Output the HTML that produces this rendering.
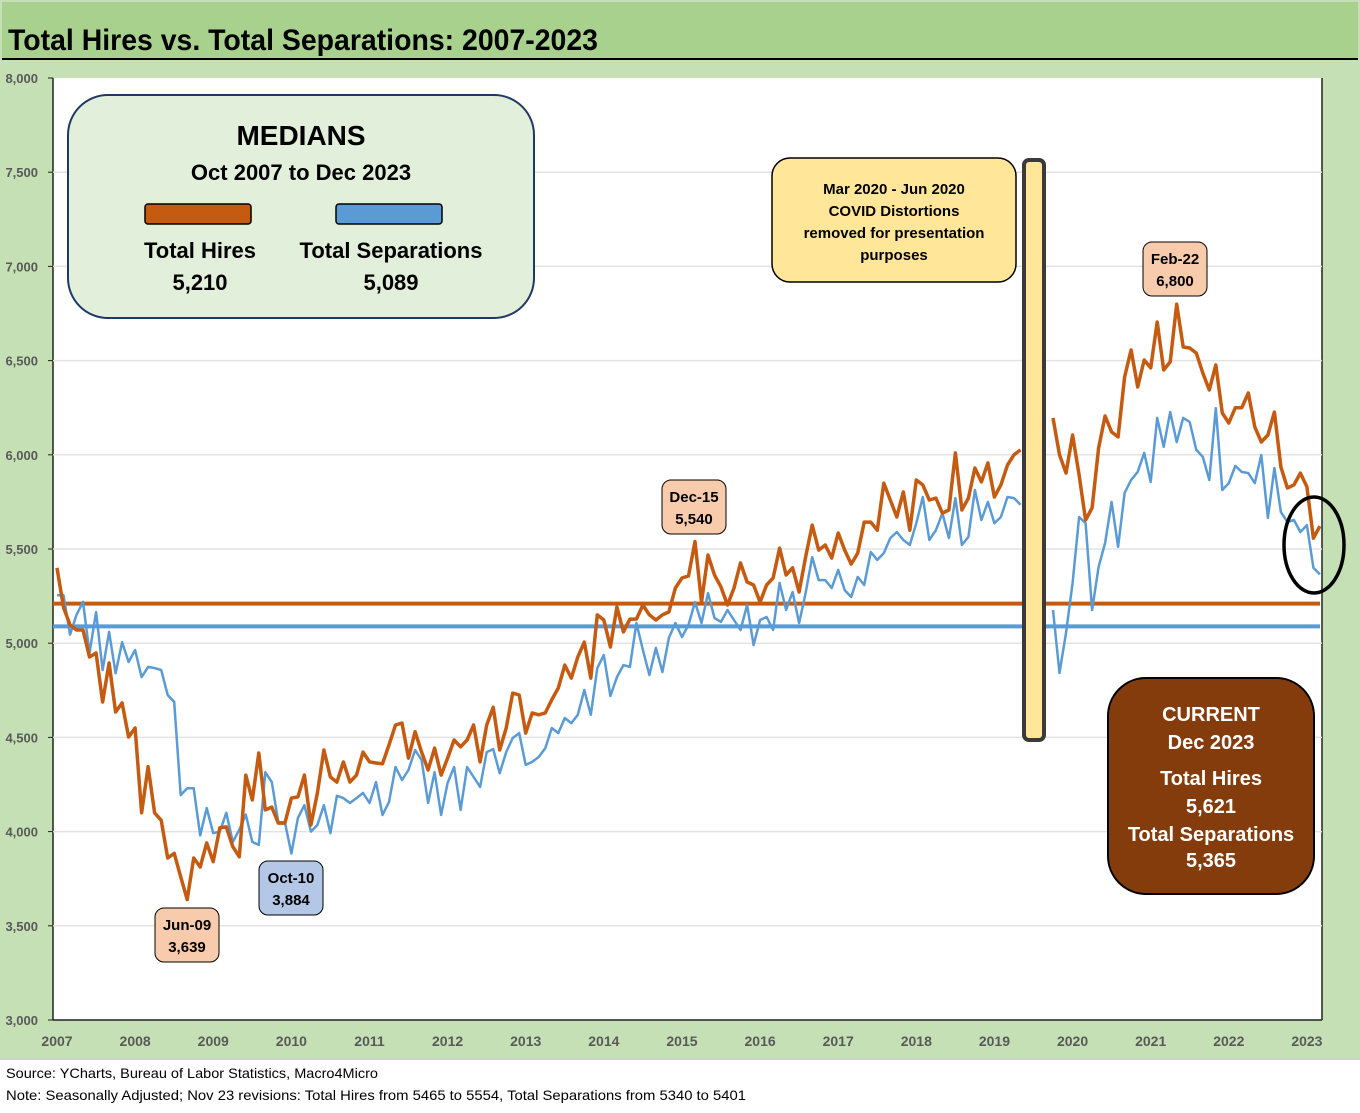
<!DOCTYPE html>
<html><head><meta charset="utf-8"><style>
body{margin:0;width:1360px;height:1108px;overflow:hidden;background:#fff;font-family:"Liberation Sans",sans-serif}
</style></head><body>
<svg width="1360" height="1108" font-family="Liberation Sans, sans-serif">
<rect x="0" y="0" width="1360" height="1058" fill="#c5e0b4"/>
<rect x="2" y="2" width="1356" height="56" fill="#a9d18e"/>
<line x1="2" y1="59" x2="1358" y2="59" stroke="#000" stroke-width="2"/>
<text x="8" y="50" font-size="30" font-weight="bold" fill="#000" textLength="590" lengthAdjust="spacingAndGlyphs">Total Hires vs. Total Separations: 2007-2023</text>
<rect x="53" y="78" width="1269" height="942" fill="#fff"/>
<line x1="53" y1="78" x2="53" y2="1020" stroke="#222" stroke-width="1.5"/>
<line x1="53" y1="1020" x2="1322" y2="1020" stroke="#222" stroke-width="1.5"/>
<line x1="1322" y1="78" x2="1322" y2="1020" stroke="#222" stroke-width="1.5"/>
<g id="grid"></g><g id="yaxis"></g><g id="xaxis"></g>
<g id="medians"></g>
<g id="lines"></g>
<line x1="0" y1="1059" x2="1360" y2="1059" stroke="#d0d0d0" stroke-width="2"/>
<text x="6" y="1078" font-size="14" fill="#000" textLength="372" lengthAdjust="spacingAndGlyphs">Source: YCharts, Bureau of Labor Statistics, Macro4Micro</text>
<text x="6" y="1100" font-size="14" fill="#000" textLength="740" lengthAdjust="spacingAndGlyphs">Note: Seasonally Adjusted; Nov 23 revisions: Total Hires from 5465 to 5554, Total Separations from 5340 to 5401</text>

<g>
<rect x="68" y="95" width="466" height="223" rx="40" fill="#e2efda" stroke="#1f3864" stroke-width="2"/>
<text x="301" y="145" font-size="28" font-weight="bold" text-anchor="middle">MEDIANS</text>
<text x="301" y="180" font-size="22" font-weight="bold" text-anchor="middle">Oct 2007 to Dec 2023</text>
<rect x="145" y="204" width="106" height="20" rx="3" fill="#c55a11" stroke="#000" stroke-width="1.5"/>
<rect x="336" y="204" width="106" height="20" rx="3" fill="#5b9bd5" stroke="#000" stroke-width="1.5"/>
<text x="200" y="258" font-size="22" font-weight="bold" text-anchor="middle">Total Hires</text>
<text x="200" y="290" font-size="22" font-weight="bold" text-anchor="middle">5,210</text>
<text x="391" y="258" font-size="22" font-weight="bold" text-anchor="middle">Total Separations</text>
<text x="391" y="290" font-size="22" font-weight="bold" text-anchor="middle">5,089</text>
</g>

<g>
<rect x="772" y="158" width="244" height="124" rx="18" fill="#ffe699" stroke="#000" stroke-width="1.5"/>
<text x="894" y="194" font-size="15" font-weight="bold" text-anchor="middle">Mar 2020 - Jun 2020</text>
<text x="894" y="216" font-size="15" font-weight="bold" text-anchor="middle">COVID Distortions</text>
<text x="894" y="238" font-size="15" font-weight="bold" text-anchor="middle">removed for presentation</text>
<text x="894" y="260" font-size="15" font-weight="bold" text-anchor="middle">purposes</text>
</g>
<g>
<rect x="1024" y="160" width="20" height="580" rx="5" fill="#ffe699" stroke="#3a3a3a" stroke-width="4"/>
</g>

<g>
<rect x="1108" y="678" width="206" height="216" rx="38" fill="#843c0c" stroke="#000" stroke-width="2"/>
<g fill="#fff" font-size="20" font-weight="bold" text-anchor="middle">
<text x="1211" y="721">CURRENT</text><text x="1211" y="749">Dec 2023</text>
<text x="1211" y="785">Total Hires</text><text x="1211" y="813">5,621</text>
<text x="1211" y="841">Total Separations</text><text x="1211" y="867">5,365</text></g>
</g>
<ellipse cx="1314" cy="545" rx="30" ry="48" fill="none" stroke="#000" stroke-width="3.5"/>

<g><rect x="155" y="908" width="64" height="54" rx="9" fill="#f8cbad" stroke="#000" stroke-width="1"/><text x="187" y="930" font-size="15" font-weight="bold" text-anchor="middle">Jun-09</text><text x="187" y="952" font-size="15" font-weight="bold" text-anchor="middle">3,639</text></g>
<g><rect x="259" y="861" width="64" height="54" rx="9" fill="#b4c7e7" stroke="#000" stroke-width="1"/><text x="291" y="883" font-size="15" font-weight="bold" text-anchor="middle">Oct-10</text><text x="291" y="905" font-size="15" font-weight="bold" text-anchor="middle">3,884</text></g>
<g><rect x="662" y="480" width="64" height="54" rx="9" fill="#f8cbad" stroke="#000" stroke-width="1"/><text x="694" y="502" font-size="15" font-weight="bold" text-anchor="middle">Dec-15</text><text x="694" y="524" font-size="15" font-weight="bold" text-anchor="middle">5,540</text></g>
<g><rect x="1143" y="242" width="64" height="54" rx="9" fill="#f8cbad" stroke="#000" stroke-width="1"/><text x="1175" y="264" font-size="15" font-weight="bold" text-anchor="middle">Feb-22</text><text x="1175" y="286" font-size="15" font-weight="bold" text-anchor="middle">6,800</text></g>
</svg>
<script>
const yTicks=[3000,3500,4000,4500,5000,5500,6000,6500,7000,7500,8000];
const xLabels=["2007","2008","2009","2010","2011","2012","2013","2014","2015","2016","2017","2018","2019","2020","2021","2022","2023"];
const medianHires=5210;
const medianSeps=5089;
const hires=[5400,5190,5097,5070,5070,4927,4948,4688,4895,4635,4683,4502,4550,4100,4345,4100,4060,3860,3885,3760,3639,3860,3812,3940,3840,4020,4025,3920,3866,4300,4168,4417,4115,4130,4045,4045,4178,4184,4300,4035,4205,4433,4290,4263,4370,4263,4300,4422,4370,4364,4360,4460,4566,4576,4390,4530,4422,4327,4443,4300,4390,4486,4450,4486,4566,4370,4566,4660,4433,4550,4735,4725,4523,4630,4620,4630,4700,4762,4884,4815,4927,5006,4815,5150,5123,4980,5192,5060,5128,5128,5203,5150,5123,5150,5166,5293,5346,5357,5540,5218,5468,5362,5298,5203,5293,5426,5325,5309,5218,5309,5346,5505,5362,5400,5272,5457,5627,5494,5521,5452,5585,5494,5420,5478,5643,5643,5600,5850,5760,5670,5803,5600,5866,5840,5760,5770,5690,5707,6010,5707,5770,5930,5856,5957,5776,5840,5946,6000,6026,null,null,null,null,6196,6000,5903,6105,5893,5654,5718,6036,6206,6121,6095,6413,6557,6360,6503,6461,6705,6450,6493,6800,6572,6567,6540,6434,6344,6477,6222,6169,6250,6250,6328,6148,6068,6105,6227,5935,5824,5840,5903,5830,5558,5621];
const seps=[5255,5255,5045,5150,5220,4948,5165,4858,5060,4840,5006,4900,4964,4820,4874,4868,4858,4725,4688,4194,4230,4230,3980,4125,3992,4000,4100,3945,4010,4090,3945,3930,4315,4263,4050,4050,3884,4072,4140,4000,4035,4140,3992,4190,4178,4152,4178,4205,4152,4263,4088,4157,4343,4274,4327,4433,4380,4152,4316,4088,4258,4343,4115,4343,4290,4237,4422,4438,4310,4422,4497,4523,4354,4370,4396,4443,4550,4523,4603,4576,4620,4752,4620,4868,4937,4720,4820,4884,4874,5107,4964,4831,4975,4847,5028,5107,5033,5097,5218,5107,5266,5134,5113,5176,5123,5070,5203,4990,5123,5139,5070,5320,5176,5272,5107,5266,5457,5335,5335,5293,5389,5282,5245,5352,5309,5484,5442,5478,5558,5590,5548,5521,5637,5776,5548,5600,5690,5558,5770,5521,5564,5813,5654,5750,5637,5670,5776,5770,5735,null,null,null,null,5176,4842,5054,5320,5670,5637,5176,5405,5532,5750,5511,5797,5866,5909,6010,5856,6196,6042,6227,6068,6196,6174,6026,5989,5866,6248,5813,5850,5941,5909,5903,5850,5999,5665,5930,5696,5643,5654,5590,5627,5400,5365];

const NS='http://www.w3.org/2000/svg';
const X0=57,DX=6.51,Y0=1020,YTOP=78;
function xPos(i){return X0+i*DX;}
function yPos(v){return Y0-(v-3000)/5000*(Y0-YTOP);}
function mk(tag,attrs,parent){const e=document.createElementNS(NS,tag);for(const k in attrs)e.setAttribute(k,attrs[k]);parent.appendChild(e);return e;}
const grid=document.getElementById('grid'),ya=document.getElementById('yaxis'),xa=document.getElementById('xaxis');
yTicks.forEach(v=>{
  const y=yPos(v);
  if(v>3000&&v<8000){const g=mk('line',{x1:53,x2:1322,y1:y,y2:y,stroke:'#e3e3e3','stroke-width':1.5},grid);
  
  }
  mk('line',{x1:48,x2:53,y1:y,y2:y,stroke:'#222'},ya);
  const t=mk('text',{x:38,y:y+5,'font-size':13,'font-weight':'bold',fill:'#595959','text-anchor':'end'},ya);
  t.textContent=v.toLocaleString('en-US');
  
  
});
xLabels.forEach((l,k)=>{
  const t=mk('text',{x:xPos(k*12),y:1046,'font-size':14,'font-weight':'bold',fill:'#595959','text-anchor':'middle'},xa);
  t.textContent=l;
  
  
});
const med=document.getElementById('medians');
[[medianHires,'#c55a11','median-hires-line'],[medianSeps,'#5b9bd5','median-separations-line']].forEach(([v,c,n])=>{
  const l=mk('line',{x1:53,x2:1320,y1:yPos(v),y2:yPos(v),stroke:c,'stroke-width':4},med);
  
  
});
function path(arr){let d='',pen=false;arr.forEach((v,i)=>{if(v==null){pen=false;return;}d+=(pen?'L':'M')+xPos(i).toFixed(1)+','+yPos(v).toFixed(1);pen=true;});return d;}
const lg=document.getElementById('lines');
const ps=mk('path',{d:path(seps),fill:'none',stroke:'#5b9bd5','stroke-width':2.5,'stroke-linejoin':'round'},lg);


const ph=mk('path',{d:path(hires),fill:'none',stroke:'#c55a11','stroke-width':3.5,'stroke-linejoin':'round'},lg);


</script>
</body></html>
